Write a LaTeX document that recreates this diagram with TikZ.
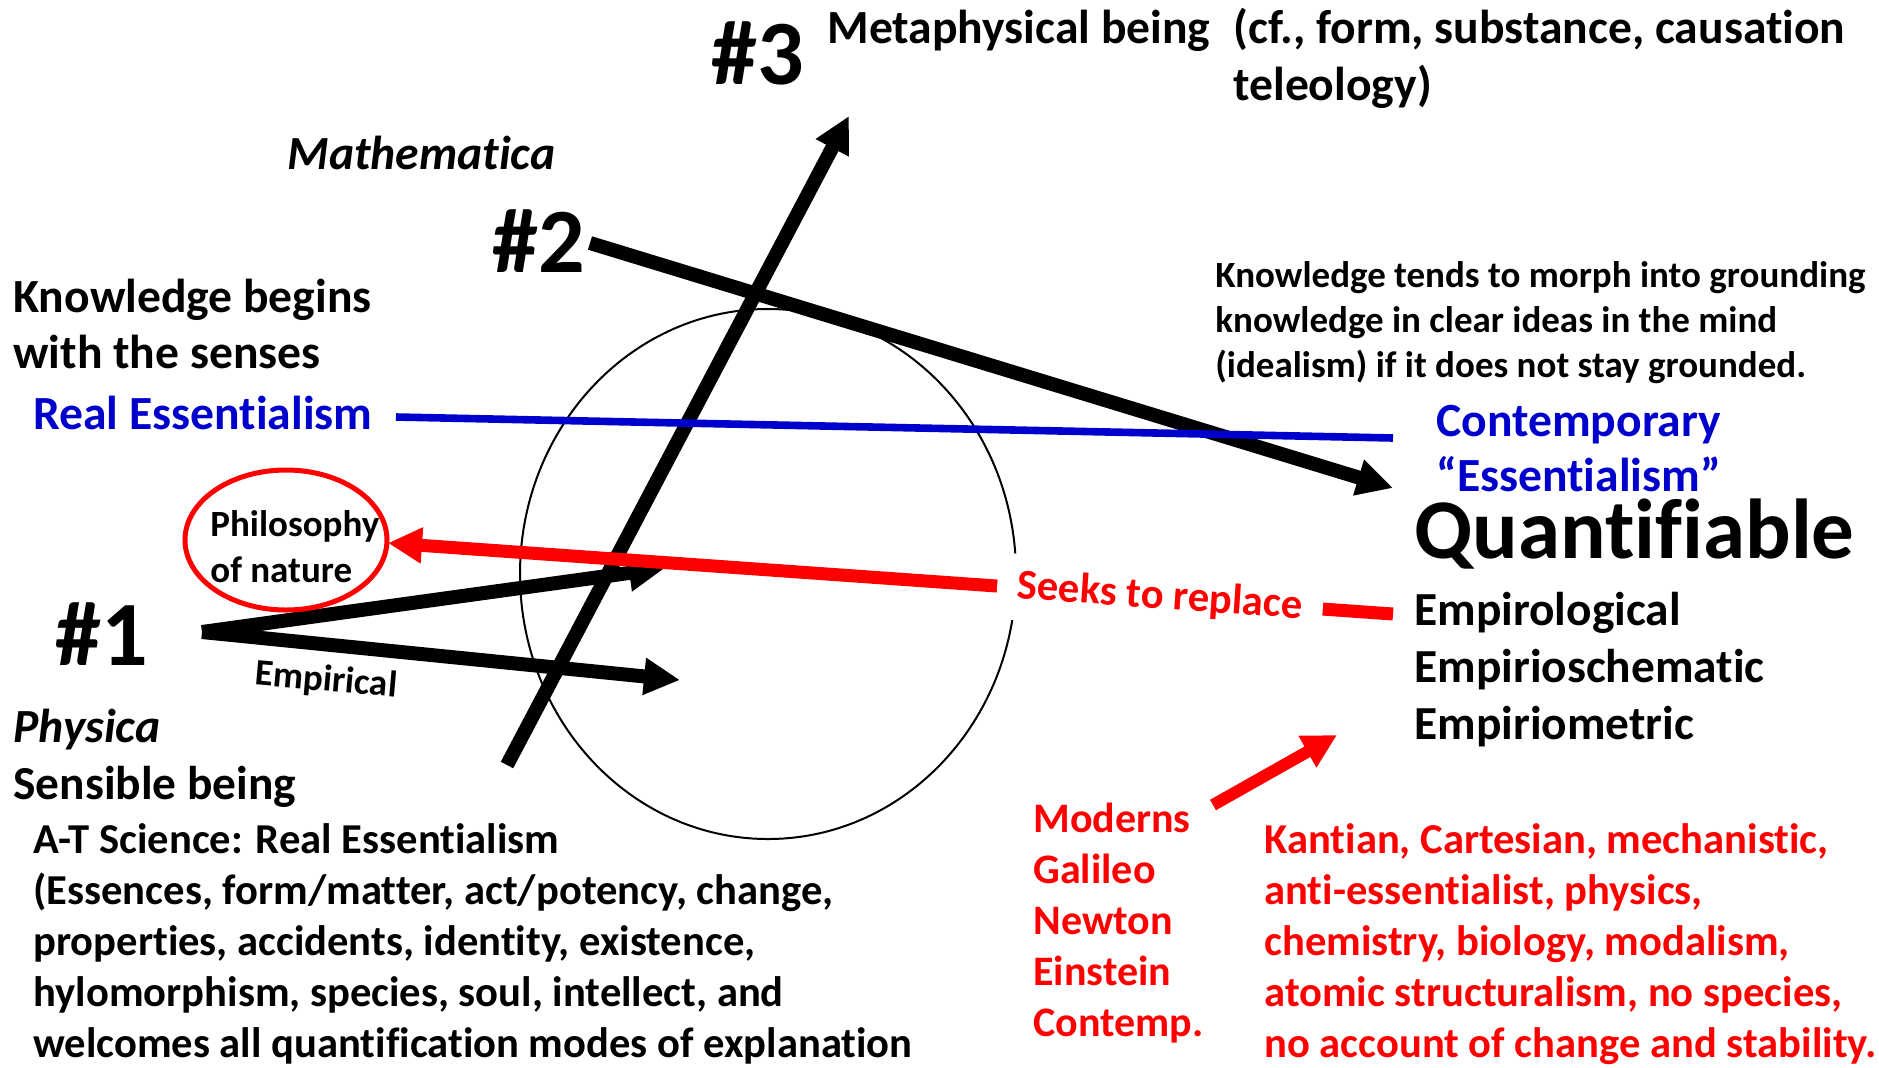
\documentclass[tikz,border=0pt]{standalone}
\usepackage{fontspec}
\setmainfont[Ligatures={NoCommon}]{Carlito}
\usetikzlibrary{arrows.meta}
\definecolor{myred}{RGB}{255,0,0}
\definecolor{myblue}{RGB}{0,0,204}
\newcommand\myfs[2]{\fontsize{#1}{#2}\selectfont}
\begin{document}
\begin{tikzpicture}[x=0.5pt,y=-0.5pt,
  txt/.style={inner sep=0pt, anchor=base west, align=left},
  bignum/.style={txt, font=\myfs{46}{50}\bfseries},
  blackarrow/.style={line width=7pt, -{Triangle[length=18pt,width=17.5pt]}},
  redarrow/.style={myred, line width=6.5pt, -{Triangle[length=17pt,width=17pt]}},
  blueline/.style={myblue, line width=3.8pt},
]
\useasboundingbox (0,0) rectangle (1879,1067);

% big ellipse
\draw[line width=1pt] (768,574) ellipse [x radius=124pt, y radius=132.5pt];

% coordinates
\coordinate (s3) at (507,765); \coordinate (t3) at (849,116);
\coordinate (s2) at (590,243); \coordinate (t2) at (1393,488);
\coordinate (s1) at (202,632); \coordinate (t1a) at (665,568); \coordinate (t1b) at (680,680);
\coordinate (bs) at (396,417); \coordinate (be) at (1393,438);
\coordinate (rs) at (1393,614); \coordinate (rt) at (388,543);
\coordinate (ms) at (1213,805); \coordinate (mt) at (1337,735);

% black arrows
\draw[blackarrow] (s3) -- (t3);
\draw[blackarrow] (s2) -- (t2);
\draw[blackarrow] (s1) -- (t1a);
\draw[blackarrow] (s1) -- (t1b);

% blue line
\draw[blueline] (bs) -- (be);

% red philosophy ring
\draw[myred, line width=2.5pt] (286,540) ellipse [x radius=50.5pt, y radius=35pt];

% red arrows
\draw[redarrow] (rs) -- (rt);
\draw[redarrow, line width=6pt] (ms) -- (mt);

% label over red line
\node[fill=white, text=myred, font=\myfs{21.3}{24}\bfseries, rotate=-4,
      inner xsep=10pt, inner ysep=7.5pt] (seeks) at (1160,597) {Seeks to replace};

% texts
\node[bignum] (n3) at (711,84) {\#3};
\node[bignum] (n2) at (492,272) {\#2};
\node[bignum] (n1) at (55,665) {\#1};

\node[txt, font=\myfs{23.8}{28.5}\bfseries] (meta) at (827,43) {Metaphysical being};
\node[txt, font=\myfs{23.8}{28.5}\bfseries] (cf) at (1233,100) {(cf., form, substance, causation\\teleology)};
\node[txt, font=\myfs{23.8}{28}\bfseries\itshape] (math) at (287,169) {Mathematica};
\node[txt, font=\myfs{23.8}{28}\bfseries] (kb) at (13,368) {Knowledge begins\\with the senses};
\node[txt, text=myblue, font=\myfs{23.8}{28}\bfseries] (re) at (33,429) {Real Essentialism};
\node[txt, font=\myfs{18.5}{23}\bfseries] (phil) at (210,582) {Philosophy\\of nature};
\node[inner sep=0pt, rotate=-5, font=\myfs{18.6}{22}\bfseries] (emp) at (326,681) {Empirical};
\node[txt, font=\myfs{23.8}{28}\bfseries\itshape] (phys) at (13,742) {Physica};
\node[txt, font=\myfs{23.7}{28}\bfseries] (sens) at (13,799) {Sensible being};
\node[txt, font=\myfs{21.3}{25.4}\bfseries] (at) at (33,1057) {A-T Science: Real Essentialism\\(Essences, form/matter, act/potency, change,\\properties, accidents, identity, existence,\\hylomorphism, species, soul, intellect, and\\welcomes all quantification modes of explanation};
\node[txt, font=\myfs{18.5}{22.4}\bfseries] (kt) at (1215,377) {Knowledge tends to morph into grounding\\knowledge in clear ideas in the mind\\(idealism) if it does not stay grounded.};
\node[txt, text=myblue, font=\myfs{23.8}{27.5}\bfseries] (ce) at (1436,491) {Contemporary\\“Essentialism”};
\node[txt, font=\myfs{42.5}{48}\bfseries] (q) at (1414,558) {Quantifiable};
\node[txt, font=\myfs{23.7}{28.5}\bfseries] (emps) at (1414,739) {Empirological\\Empirioschematic\\Empiriometric};
\node[txt, text=myred, font=\myfs{21}{25.5}\bfseries] (mod) at (1033,1036) {Moderns\\Galileo\\Newton\\Einstein\\Contemp.};
\node[txt, text=myred, font=\myfs{21.3}{25.4}\bfseries] (kant) at (1264,1057) {Kantian, Cartesian, mechanistic,\\anti-essentialist, physics,\\chemistry, biology, modalism,\\atomic structuralism, no species,\\no account of change and stability.};
\end{tikzpicture}
\end{document}
